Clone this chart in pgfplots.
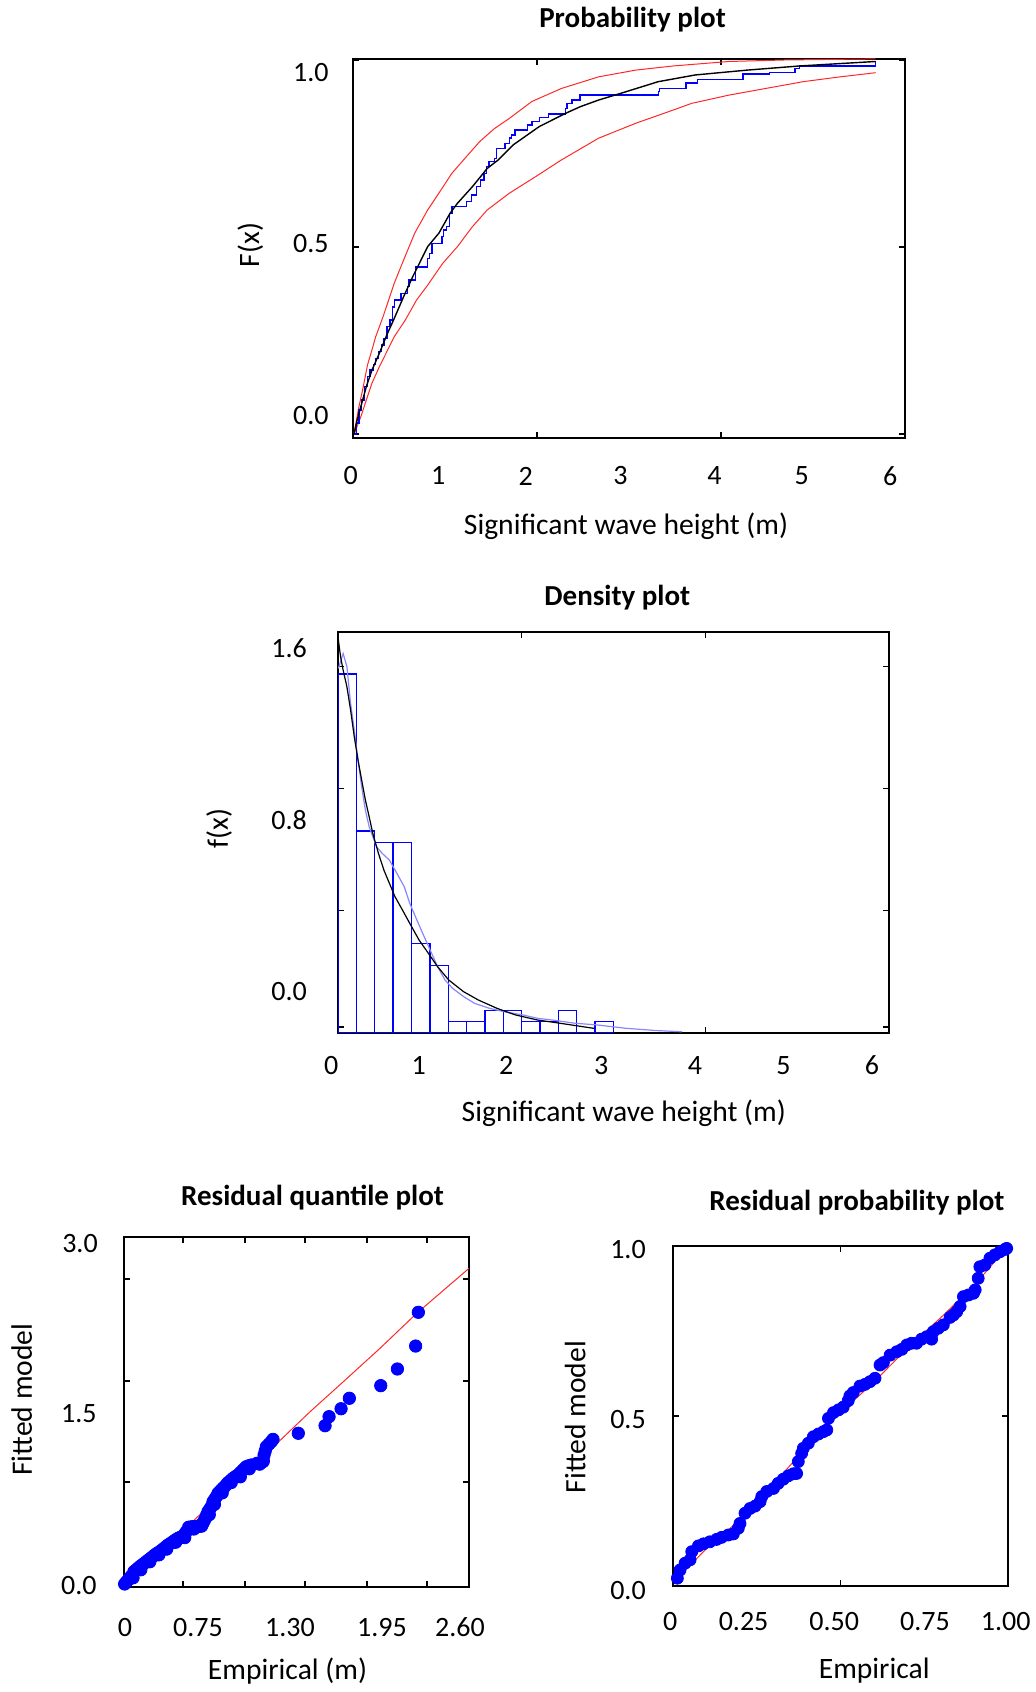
\documentclass[border=0pt]{standalone}
\usepackage{fontspec}
\setmainfont{Carlito}
\usepackage{pgfplots}
\pgfplotsset{compat=1.18}
\definecolor{lblue}{RGB}{135,135,255}
\definecolor{myred}{RGB}{255,40,40}
\pgfplotsset{panel/.style={scale only axis, anchor=south west,
  axis line style={line width=0.9pt}, major tick length=3pt, tick align=inside,
  tick pos=both, tick style={black, line width=0.7pt},
  xticklabels={}, yticklabels={}, scaled ticks=false}}
\tikzset{lab/.style={font=\fontsize{14}{16}\selectfont, inner sep=0pt},
  alab/.style={font=\fontsize{14.8}{16}\selectfont, inner sep=0pt},
  ttl/.style={font=\fontsize{14.5}{16}\selectfont\bfseries, inner sep=0pt, anchor=base}}
\begin{document}
\begin{tikzpicture}
\path[use as bounding box] (0pt,0pt) rectangle (518pt,846pt);

% ---------- Probability plot ----------
\begin{axis}[panel, at={(176.5pt,627pt)}, width=276pt, height=189.5pt,
  xmin=0, xmax=5.5, ymin=-0.0107, ymax=1.0027,
  xtick={0,1.8333,3.6667,5.5}, ytick={0,0.5,1}]
\addplot[myred, line width=0.5pt] coordinates {(0.011,0.002) (0.059,0.073) (0.096,0.118) (0.145,0.185) (0.189,0.225) (0.226,0.260) (0.300,0.314) (0.411,0.403) (0.504,0.465) (0.615,0.537) (0.744,0.599) (0.856,0.644) (0.985,0.697) (1.115,0.737) (1.263,0.782) (1.411,0.817) (1.559,0.844) (1.782,0.889) (2.078,0.924) (2.448,0.955) (2.819,0.973) (3.189,0.984) (3.744,0.996) (4.300,1.000) (5.207,1.003)};
\addplot[myred, line width=0.5pt] coordinates {(0.011,0.0) (0.078,0.046) (0.133,0.091) (0.189,0.136) (0.263,0.180) (0.337,0.220) (0.411,0.260) (0.522,0.305) (0.633,0.358) (0.744,0.398) (0.893,0.456) (1.041,0.501) (1.189,0.554) (1.337,0.599) (1.559,0.644) (1.819,0.688) (2.078,0.733) (2.448,0.791) (2.819,0.831) (3.189,0.866) (3.374,0.884) (3.744,0.906) (4.115,0.924) (4.485,0.942) (4.856,0.955) (5.207,0.966)};
\addplot[blue, line width=0.7pt, const plot] coordinates {(0.01,0.0) (0.033,0.029) (0.059,0.064) (0.085,0.091) (0.115,0.127) (0.144,0.153) (0.170,0.171) (0.207,0.185) (0.226,0.202) (0.256,0.220) (0.281,0.238) (0.307,0.256) (0.337,0.287) (0.367,0.305) (0.393,0.340) (0.411,0.358) (0.478,0.376) (0.541,0.394) (0.559,0.412) (0.622,0.447) (0.744,0.470) (0.763,0.483) (0.789,0.510) (0.885,0.528) (0.904,0.545) (0.930,0.554) (0.959,0.590) (0.985,0.608) (1.133,0.621) (1.181,0.639) (1.233,0.661) (1.270,0.679) (1.307,0.697) (1.330,0.715) (1.356,0.728) (1.411,0.737) (1.430,0.764) (1.515,0.777) (1.559,0.791) (1.578,0.799) (1.615,0.813) (1.737,0.826) (1.782,0.835) (1.856,0.847) (1.948,0.856) (2.115,0.871) (2.133,0.884) (2.182,0.893) (2.263,0.906) (3.041,0.915) (3.052,0.924) (3.319,0.939) (3.430,0.948) (3.885,0.963) (4.152,0.966) (4.404,0.978) (4.448,0.984) (5.207,0.984) (5.207,0.996)};
\addplot[black, line width=0.7pt] coordinates {(0.01,0.0) (0.041,0.037) (0.078,0.073) (0.133,0.127) (0.189,0.171) (0.263,0.216) (0.337,0.265) (0.411,0.309) (0.504,0.367) (0.596,0.421) (0.744,0.501) (0.856,0.537) (0.967,0.590) (1.041,0.617) (1.189,0.661) (1.337,0.710) (1.448,0.733) (1.596,0.773) (1.856,0.822) (2.115,0.857) (2.263,0.875) (2.448,0.893) (2.670,0.911) (3.041,0.942) (3.411,0.960) (3.930,0.973) (4.448,0.984) (5.207,0.996)};
\end{axis}

% ---------- Density plot ----------
\begin{axis}[panel, at={(169pt,329.5pt)}, width=275.5pt, height=200.5pt,
  xmin=0, xmax=6, ymin=0, ymax=1.64,
  xtick={0,2,4,6}, ytick={0.025,0.5,1,1.5}]
\addplot[ybar interval, draw=blue, line width=0.7pt] coordinates {(0,1.468) (0.2,0.826) (0.4,0.780) (0.6,0.780) (0.8,0.367) (1.0,0.275) (1.2,0.0459) (1.4,0.0459) (1.6,0.0917) (1.8,0.0917) (2.0,0.0459) (2.2,0.0459) (2.4,0.0917) (2.6,0) (2.8,0.0459) (3.0,0)};
\addplot[lblue, line width=0.6pt] coordinates {(0.004,1.491) (0.056,1.552) (0.097,1.498) (0.137,1.348) (0.177,1.239) (0.218,1.116) (0.258,1.007) (0.298,0.912) (0.339,0.844) (0.379,0.803) (0.419,0.762) (0.480,0.735) (0.560,0.707) (0.641,0.653) (0.722,0.598) (0.782,0.530) (0.843,0.476) (0.923,0.407) (1.004,0.339) (1.085,0.271) (1.165,0.217) (1.246,0.183) (1.367,0.149) (1.488,0.121) (1.649,0.101) (1.810,0.087) (2.012,0.074) (2.173,0.060) (2.335,0.053) (2.577,0.040) (2.818,0.033) (3.141,0.019) (3.464,0.010) (3.746,0.005)};
\addplot[black, line width=0.6pt] coordinates {(0.004,1.607) (0.028,1.539) (0.056,1.484) (0.097,1.416) (0.137,1.321) (0.177,1.212) (0.218,1.116) (0.258,1.034) (0.298,0.953) (0.339,0.885) (0.379,0.816) (0.440,0.735) (0.500,0.666) (0.560,0.612) (0.621,0.557) (0.702,0.503) (0.782,0.448) (0.883,0.380) (0.984,0.326) (1.085,0.271) (1.205,0.217) (1.367,0.169) (1.528,0.135) (1.730,0.101) (1.931,0.074) (2.173,0.053) (2.415,0.040) (2.786,0.019)};
\end{axis}

% ---------- Residual quantile plot ----------
\begin{axis}[panel, at={(62pt,52.5pt)}, width=172.5pt, height=175pt,
  xmin=0, xmax=2.67, ymin=0, ymax=3.049, clip=false,
  xtick={0,0.457,0.937,1.401,1.881,2.345,2.67}, ytick={0,0.915,1.794,2.683,3.049}]
\addplot[only marks, mark=*, mark size=3.1pt, color=blue, mark options={fill=blue, draw=blue}] coordinates {
(0.005,0.026) (0.018,0.044) (0.031,0.061) (0.044,0.078) (0.057,0.096) (0.077,0.134) (0.092,0.148) (0.108,0.163) (0.123,0.178) (0.139,0.192) (0.156,0.206) (0.173,0.221) (0.190,0.236) (0.206,0.250) (0.222,0.264) (0.237,0.279) (0.256,0.294) (0.276,0.308) (0.293,0.322) (0.310,0.337) (0.326,0.352) (0.341,0.366) (0.360,0.380) (0.379,0.395) (0.398,0.410) (0.418,0.424) (0.437,0.434) (0.457,0.444) (0.470,0.463) (0.482,0.482) (0.500,0.520) (0.517,0.523) (0.534,0.526) (0.553,0.526) (0.573,0.526) (0.592,0.540) (0.611,0.555) (0.620,0.576) (0.630,0.598) (0.640,0.627) (0.650,0.656) (0.663,0.678) (0.676,0.700) (0.689,0.743) (0.702,0.765) (0.715,0.787) (0.728,0.816) (0.740,0.830) (0.753,0.845) (0.766,0.860) (0.779,0.874) (0.792,0.891) (0.805,0.909) (0.825,0.928) (0.844,0.947) (0.863,0.962) (0.882,0.976) (0.901,0.998) (0.921,1.019) (0.934,1.033) (0.947,1.048) (0.966,1.056) (0.986,1.063) (1.030,1.078) (1.076,1.092) (1.078,1.101) (1.084,1.150) (1.093,1.186) (1.102,1.222) (1.121,1.244) (1.140,1.266) (1.153,1.286)
(0.070,0.080) (0.130,0.150) (0.200,0.220) (0.270,0.280) (0.330,0.330) (0.400,0.390) (0.470,0.430) (0.540,0.505) (0.600,0.530) (0.660,0.630) (0.700,0.720) (0.760,0.820) (0.830,0.910) (0.900,0.960) (0.970,1.030) (1.050,1.070)
(1.349,1.339) (1.556,1.405) (1.587,1.484) (1.680,1.553) (1.744,1.644) (1.987,1.754) (2.116,1.899) (2.257,2.099) (2.278,2.393)};
\addplot[myred, line width=0.5pt] coordinates {(0,0) (0.150,0.163) (0.408,0.439) (0.666,0.714) (0.924,0.990) (1.130,1.193) (1.440,1.527) (1.698,1.789) (1.981,2.079) (2.265,2.384) (2.670,2.776)};
\end{axis}

% ---------- Residual probability plot ----------
\begin{axis}[panel, at={(336.5pt,53pt)}, width=167.5pt, height=170pt,
  xmin=0, xmax=1, ymin=0, ymax=1, clip=false,
  xtick={0,0.5,1}, ytick={0,0.5,1}]
\addplot[only marks, mark=*, mark size=3pt, color=blue, mark options={fill=blue, draw=blue}] coordinates {
(0.013,0.023) (0.021,0.047) (0.036,0.067) (0.051,0.077) (0.056,0.101) (0.076,0.118) (0.091,0.124) (0.110,0.130) (0.130,0.137) (0.145,0.143) (0.165,0.150) (0.180,0.153) (0.195,0.170) (0.200,0.184) (0.215,0.214) (0.230,0.228) (0.245,0.235) (0.260,0.248) (0.265,0.263) (0.280,0.278) (0.300,0.287) (0.314,0.302) (0.329,0.314) (0.344,0.324) (0.359,0.330) (0.369,0.331) (0.374,0.366) (0.384,0.390) (0.389,0.405) (0.404,0.420) (0.419,0.439) (0.434,0.447) (0.449,0.454) (0.459,0.459) (0.464,0.493) (0.479,0.510) (0.494,0.518) (0.508,0.526) (0.523,0.545) (0.528,0.559) (0.538,0.569) (0.558,0.588) (0.573,0.593) (0.588,0.601) (0.603,0.611) (0.618,0.650) (0.628,0.657) (0.648,0.679) (0.668,0.689) (0.683,0.696) (0.698,0.709) (0.712,0.714) (0.727,0.714) (0.742,0.726) (0.757,0.733) (0.772,0.726) (0.777,0.748) (0.792,0.758) (0.807,0.768) (0.827,0.790) (0.837,0.797) (0.847,0.807) (0.857,0.822) (0.867,0.851) (0.882,0.856) (0.897,0.861) (0.902,0.871) (0.911,0.905) (0.916,0.939) (0.931,0.944) (0.946,0.964) (0.961,0.974) (0.976,0.983) (0.991,0.990) (0.996,0.993)};
\addplot[myred, line width=0.5pt] coordinates {(0.01,0.02) (0.1,0.11) (0.2,0.195) (0.3,0.30) (0.4,0.41) (0.5,0.51) (0.6,0.60) (0.7,0.70) (0.8,0.79) (0.9,0.885) (1.0,1.0)};
\end{axis}

% ---------- Text (pixel coordinates from top left) ----------
\begin{scope}[x=0.5pt, y=-0.5pt, yshift=846pt]
% panel 1
\node[ttl] at (632.5,28) {Probability plot};
\node[lab] at (310.8,73) {1.0};
\node[lab] at (310.8,244) {0.5};
\node[lab] at (310.8,415.5) {0.0};
\node[alab, rotate=90] at (250.4,245) {F(x)};
\foreach \x/\t in {350.7/0,438.2/1,525.6/2,620.5/3,714.4/4,801.8/5,890.3/6}
  \node[lab] at (\x,476) {\t};
\node[alab] at (626,526) {Significant wave height (m)};
% panel 2
\node[ttl] at (617.3,606) {Density plot};
\node[lab] at (289.2,648.6) {1.6};
\node[lab] at (289.2,820.2) {0.8};
\node[lab] at (289.2,991.8) {0.0};
\node[alab, rotate=90] at (219,828.8) {f(x)};
\foreach \x/\t in {331.3/0,418.7/1,506.1/2,601.1/3,695/4,783.5/5,872/6}
  \node[lab] at (\x,1065.2) {\t};
\node[alab] at (623.8,1113.7) {Significant wave height (m)};
% panel 3
\node[ttl] at (312.5,1206) {Residual quantile plot};
\node[lab] at (80,1243.5) {3.0};
\node[lab] at (78.8,1413.7) {1.5};
\node[lab] at (78.8,1585.3) {0.0};
\node[alab, rotate=90] at (21.6,1399.7) {Fitted model};
\foreach \x/\t in {125/0,198/0.75,290/1.30,382/1.95,460/2.60}
  \node[lab] at (\x,1627.5) {\t};
\node[alab] at (287.5,1671) {Empirical (m)};
% panel 4
\node[ttl] at (856.9,1211) {Residual probability plot};
\node[lab] at (628,1249.7) {1.0};
\node[lab] at (628,1419.1) {0.5};
\node[lab] at (628,1590.7) {0.0};
\node[alab, rotate=90] at (575.2,1417) {Fitted model};
\foreach \x/\t in {670.2/0,743.6/0.25,834.2/0.50,924.9/0.75,1005.8/1.00}
  \node[lab] at (\x,1622) {\t};
\node[alab] at (874.2,1670.6) {Empirical};
\end{scope}
\end{tikzpicture}
\end{document}
